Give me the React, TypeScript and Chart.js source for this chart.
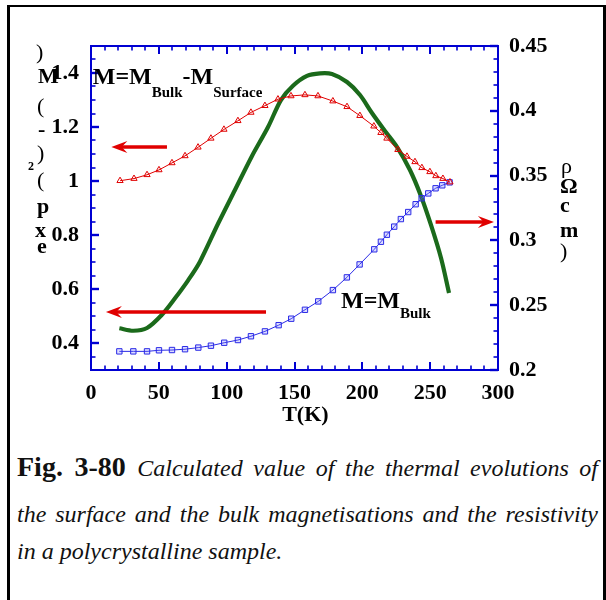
import React, { useEffect, useRef } from "react";
import { Chart, registerables } from "chart.js";

Chart.register(...registerables);

// ---- data ----
const surfaceT = [21.4, 31.7, 41.3, 50.1, 59.7, 69.3, 78.9, 88.4, 98, 108.3, 117.9, 128.2, 137.8, 147.4, 157.7, 167.3, 178.3, 188.7, 198.2, 208.5, 213.7, 218.1, 226.2, 232.9, 238.8, 243.9, 249.8, 254.2, 259.4, 264.6];
const surfaceM = [1.001, 1.009, 1.023, 1.041, 1.067, 1.093, 1.125, 1.158, 1.191, 1.223, 1.254, 1.279, 1.303, 1.315, 1.319, 1.315, 1.296, 1.275, 1.242, 1.203, 1.179, 1.158, 1.116, 1.091, 1.071, 1.049, 1.034, 1.019, 1.009, 0.996];

const bulkT = [20.9, 31.2, 41.3, 50.1, 59.7, 69.3, 79.1, 88.4, 98.2, 108.3, 117.9, 128.2, 138.3, 147.6, 157.7, 167.5, 178.3, 188.6, 198, 208.8, 213.7, 218.1, 223.5, 228.4, 233.8, 239.3, 243.7, 248.6, 254, 258.9, 264.3];
const bulkM = [0.369, 0.369, 0.369, 0.373, 0.374, 0.377, 0.383, 0.39, 0.401, 0.411, 0.425, 0.443, 0.466, 0.49, 0.523, 0.554, 0.596, 0.643, 0.691, 0.747, 0.775, 0.801, 0.831, 0.859, 0.885, 0.914, 0.936, 0.954, 0.973, 0.984, 0.995];

const rhoT = [20.9, 31.2, 41.3, 52.1, 61.9, 71.7, 80.3, 93.8, 106.1, 118.4, 130.5, 140, 148.9, 159.2, 168.8, 177.6, 188.7, 198.3, 207.1, 216.7, 225.5, 235.1, 243.2, 250.6, 258, 263.9];
const rhoV = [0.2322, 0.2303, 0.2324, 0.2424, 0.2553, 0.2694, 0.2836, 0.3132, 0.3389, 0.3646, 0.3875, 0.4083, 0.4193, 0.4269, 0.4289, 0.4284, 0.4222, 0.4122, 0.3983, 0.3844, 0.3721, 0.3543, 0.3343, 0.3119, 0.2864, 0.2594];

const xTicks = [0, 50, 100, 150, 200, 250, 300];
const leftTicks = [0.4, 0.6, 0.8, 1, 1.2, 1.4];
const rightTicks = [0.2, 0.25, 0.3, 0.35, 0.4, 0.45];

// arrows: [fromT, toT, value]
const arrowUpperLeft = [56, 15, 1.126];
const arrowLowerLeft = [129, 11, 0.515];
const arrowRight = [254, 297, 0.3142];

const FONT = "'Liberation Serif', 'Times New Roman', Times, serif";
const AXIS_BLUE = "#0000d2";
const RED = "#e00000";
const GREEN = "#1b6a1b";
const SERIES_BLUE = "#2a2ae6";

function drawArrow(ctx: CanvasRenderingContext2D, x1: number, x2: number, y: number) {
  const dir = Math.sign(x2 - x1);
  const headLen = 16;
  const half = 6;
  ctx.save();
  ctx.strokeStyle = RED;
  ctx.fillStyle = RED;
  ctx.lineWidth = 3.5;
  ctx.beginPath();
  ctx.moveTo(x1, y);
  ctx.lineTo(x2 - dir * headLen * 0.6, y);
  ctx.stroke();
  ctx.beginPath();
  ctx.moveTo(x2, y);
  ctx.lineTo(x2 - dir * headLen, y - half);
  ctx.lineTo(x2 - dir * headLen * 0.65, y);
  ctx.lineTo(x2 - dir * headLen, y + half);
  ctx.closePath();
  ctx.fill();
  ctx.restore();
}

function txt(ctx: CanvasRenderingContext2D, s: string, x: number, y: number, font: string, align: CanvasTextAlign = "left") {
  ctx.font = font;
  ctx.textAlign = align;
  ctx.textBaseline = "alphabetic";
  ctx.fillText(s, x, y);
}

const decorPlugin = {
  id: "decor",
  afterDatasetsDraw(chart: any) {
    const ctx: CanvasRenderingContext2D = chart.ctx;
    const { left, right, top, bottom } = chart.chartArea;
    const xs = chart.scales.x;
    const yl = chart.scales.y;
    const yr = chart.scales.y2;

    drawArrow(ctx, xs.getPixelForValue(arrowUpperLeft[0]), xs.getPixelForValue(arrowUpperLeft[1]), yl.getPixelForValue(arrowUpperLeft[2]));
    drawArrow(ctx, xs.getPixelForValue(arrowLowerLeft[0]), xs.getPixelForValue(arrowLowerLeft[1]), yl.getPixelForValue(arrowLowerLeft[2]));
    drawArrow(ctx, xs.getPixelForValue(arrowRight[0]), xs.getPixelForValue(arrowRight[1]), yr.getPixelForValue(arrowRight[2]));

    ctx.save();
    ctx.strokeStyle = AXIS_BLUE;
    ctx.lineWidth = 2;
    ctx.strokeRect(left, top, right - left, bottom - top);

    for (let v = 0; v <= 300; v += 10) {
      const px = Math.round(xs.getPixelForValue(v));
      const major = v % 50 === 0;
      const len = major ? 8 : 4.5;
      ctx.lineWidth = major ? 2 : 1.6;
      ctx.beginPath();
      ctx.moveTo(px, bottom);
      ctx.lineTo(px, bottom - len);
      ctx.moveTo(px, top);
      ctx.lineTo(px, top + len);
      ctx.stroke();
    }
    for (let i = 0; i <= 24; i++) {
      const v = 0.3 + i * 0.05;
      const py = Math.round(yl.getPixelForValue(v));
      const major = i % 4 === 2;
      const len = major ? 8 : 4.5;
      ctx.lineWidth = major ? 2.4 : 1.6;
      ctx.beginPath();
      ctx.moveTo(left, py);
      ctx.lineTo(left + len, py);
      ctx.stroke();
    }
    for (let i = 0; i <= 25; i++) {
      const v = 0.2 + i * 0.01;
      const py = Math.round(yr.getPixelForValue(v));
      const major = i % 5 === 0;
      const len = major ? 8 : 4.5;
      ctx.lineWidth = major ? 2.4 : 1.6;
      ctx.beginPath();
      ctx.moveTo(right, py);
      ctx.lineTo(right - len, py);
      ctx.stroke();
    }
    ctx.restore();

    ctx.save();
    ctx.fillStyle = "#000";
    const big = `bold 24px ${FONT}`;
    const sub = `bold 15px ${FONT}`;
    let x = xs.getPixelForValue(1.3);
    const yb = yl.getPixelForValue(1.359);
    ctx.font = big;
    txt(ctx, "M=M", x, yb, big);
    x += ctx.measureText("M=M").width;
    txt(ctx, "Bulk", x, yb + 12.5, sub);
    ctx.font = sub;
    x += ctx.measureText("Bulk").width;
    txt(ctx, "-M", x, yb, big);
    ctx.font = big;
    x += ctx.measureText("-M").width;
    txt(ctx, "Surface", x, yb + 12.5, sub);

    let x2 = xs.getPixelForValue(184.3);
    const yb2 = yl.getPixelForValue(0.53);
    txt(ctx, "M=M", x2, yb2, big);
    ctx.font = big;
    x2 += ctx.measureText("M=M").width;
    txt(ctx, "Bulk", x2, yb2 + 10.5, sub);

    // x-axis title (sits a little right of the axis centre in the reference)
    txt(ctx, "T(K)", xs.getPixelForValue(158), bottom + 51, `bold 22px ${FONT}`, "center");

    const reg = `22px ${FONT}`;
    const bld = `bold 22px ${FONT}`;
    const lx = left - 54;
    txt(ctx, ")", lx - 1, top + 13, reg);
    txt(ctx, "M", lx + 1, top + 37, bld);
    txt(ctx, "(", lx, top + 67, reg);
    txt(ctx, "-", lx + 1, top + 90, bld);
    txt(ctx, ")", lx, top + 114, reg);
    txt(ctx, "2", lx - 9, top + 124, `bold 12px ${FONT}`);
    txt(ctx, "(", lx, top + 141, reg);
    txt(ctx, "p", lx, top + 167, bld);
    txt(ctx, "x", lx - 2, top + 191, bld);
    txt(ctx, "e", lx, top + 207, bld);

    const rx = right + 62;
    txt(ctx, "ρ", rx + 1, top + 127, reg);
    txt(ctx, "Ω", rx, top + 147, bld);
    txt(ctx, "c", rx, top + 166, bld);
    txt(ctx, "m", rx, top + 191, bld);
    txt(ctx, ")", rx, top + 212, reg);
    ctx.restore();
  },
};

export default function App() {
  const ref = useRef<HTMLCanvasElement | null>(null);

  useEffect(() => {
    if (!ref.current) return;
    const tickFont = { family: FONT, size: 22, weight: "bold" as const };
    const chart = new Chart(ref.current, {
      type: "line",
      data: {
        datasets: [
          {
            label: "M_Bulk - M_Surface",
            data: surfaceT.map((t, i) => ({ x: t, y: surfaceM[i] })),
            yAxisID: "y",
            borderColor: RED,
            borderWidth: 1,
            pointStyle: "triangle",
            pointRadius: 3.6,
            pointBorderWidth: 1,
            pointBorderColor: RED,
            pointBackgroundColor: "rgba(255,255,255,0)",
            tension: 0,
            fill: false,
          },
          {
            label: "M_Bulk",
            data: bulkT.map((t, i) => ({ x: t, y: bulkM[i] })),
            yAxisID: "y",
            borderColor: SERIES_BLUE,
            borderWidth: 1,
            pointStyle: "rect",
            pointRadius: 3.8,
            pointBorderWidth: 1,
            pointBorderColor: SERIES_BLUE,
            pointBackgroundColor: "rgba(120,120,255,0.25)",
            tension: 0,
            fill: false,
          },
          {
            label: "rho",
            data: rhoT.map((t, i) => ({ x: t, y: rhoV[i] })),
            yAxisID: "y2",
            borderColor: GREEN,
            borderWidth: 4.2,
            pointRadius: 0,
            tension: 0.3,
            fill: false,
          },
        ],
      },
      options: {
        animation: false,
        responsive: false,
        maintainAspectRatio: false,
        layout: { padding: { top: 46, left: 0, right: 0, bottom: 0 } },
        plugins: { legend: { display: false }, tooltip: { enabled: false } },
        scales: {
          x: {
            type: "linear",
            position: "bottom",
            min: 0,
            max: 300,
            afterBuildTicks: (s: any) => {
              s.ticks = xTicks.map((v) => ({ value: v }));
            },
            afterFit: (s: any) => {
              s.height = 70;
            },
            grid: { display: false, drawTicks: false },
            border: { display: false },
            ticks: {
              padding: 10,
              color: "#000",
              font: tickFont,
              maxRotation: 0,
              autoSkip: false,
              callback: (v: any) => String(v),
            },
          },
          y: {
            type: "linear",
            position: "left",
            min: 0.3,
            max: 1.5,
            afterBuildTicks: (s: any) => {
              s.ticks = leftTicks.map((v) => ({ value: v }));
            },
            afterFit: (s: any) => {
              s.width = 91;
            },
            grid: { display: false, drawTicks: false },
            border: { display: false },
            ticks: {
              padding: 12,
              color: "#000",
              font: tickFont,
              autoSkip: false,
              callback: (v: any) => String(Math.round(v * 100) / 100),
            },
          },
          y2: {
            type: "linear",
            position: "right",
            min: 0.2,
            max: 0.45,
            afterBuildTicks: (s: any) => {
              s.ticks = rightTicks.map((v) => ({ value: v }));
            },
            afterFit: (s: any) => {
              s.width = 108;
            },
            grid: { display: false, drawTicks: false },
            border: { display: false },
            ticks: {
              padding: 11,
              color: "#000",
              font: tickFont,
              autoSkip: false,
              callback: (v: any) => String(Math.round(v * 100) / 100),
            },
          },
        },
      },
      plugins: [decorPlugin],
    });
    return () => chart.destroy();
  }, []);

  const capBase: React.CSSProperties = {
    position: "absolute",
    left: 17,
    width: 581,
    fontFamily: FONT,
    color: "#111",
    whiteSpace: "nowrap",
  };

  return (
    <div style={{ position: "absolute", left: 0, top: 0, width: 606, height: 600, background: "#fff", overflow: "hidden" }}>
      <div
        style={{
          position: "absolute",
          left: 7,
          top: 5,
          width: 599,
          height: 595,
          boxSizing: "border-box",
          borderLeft: "3px solid #000",
          borderTop: "2px solid #000",
          borderRight: "3px solid #000",
        }}
      />
      <canvas ref={ref} width={606} height={440} style={{ position: "absolute", left: 0, top: 0, width: 606, height: 440 }} />
      <div style={{ ...capBase, top: 448.5, fontSize: 28, lineHeight: "36px", textAlign: "justify", textAlignLast: "justify" as any, whiteSpace: "normal" }}>
        <b>Fig. 3-80</b>{" "}
        <i style={{ fontSize: 24, lineHeight: "36px" }}>Calculated value of the thermal evolutions of</i>
      </div>
      <div style={{ ...capBase, top: 498.5, fontSize: 24, lineHeight: "30px", fontStyle: "italic", textAlign: "justify", textAlignLast: "justify" as any, whiteSpace: "normal" }}>
        the surface and the bulk magnetisations and the resistivity
      </div>
      <div style={{ ...capBase, top: 536, fontSize: 24, lineHeight: "30px", fontStyle: "italic" }}>
        in a polycrystalline sample.
      </div>
    </div>
  );
}
